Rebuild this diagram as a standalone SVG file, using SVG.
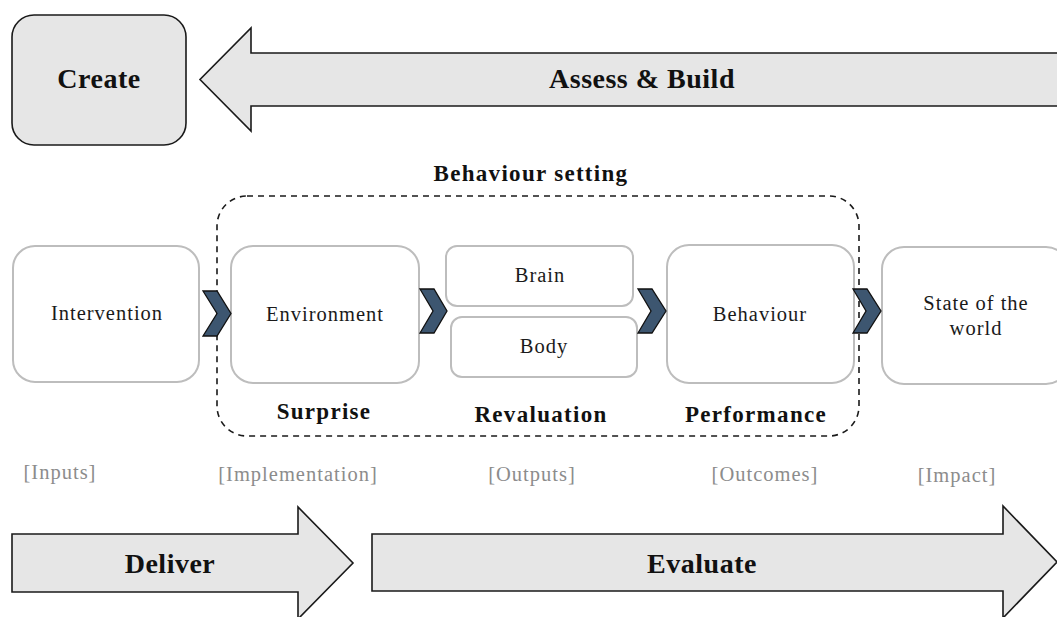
<svg xmlns="http://www.w3.org/2000/svg" width="1057" height="617" viewBox="0 0 1057 617">
  <style>
    .bg { fill: #ffffff; }
    .block { fill: #e6e6e6; stroke: #1a1a1a; stroke-width: 1.6; }
    .node { fill: #ffffff; stroke: #bdbdbd; stroke-width: 2; }
    .setting { fill: none; stroke: #1a1a1a; stroke-width: 1.6; stroke-dasharray: 6 5; }
    .chev { fill: #3d5670; stroke: #111111; stroke-width: 1.3; stroke-linejoin: miter; }
    .big { font-family: "Liberation Serif", serif; font-weight: bold; font-size: 28px; letter-spacing: 0.5px; fill: #111111; text-anchor: middle; }
    .head { font-family: "Liberation Serif", serif; font-weight: bold; font-size: 23px; letter-spacing: 1.3px; fill: #111111; text-anchor: middle; }
    .lbl { font-family: "Liberation Serif", serif; font-size: 20.5px; letter-spacing: 1px; fill: #1a1a1a; text-anchor: middle; }
    .stage { font-family: "Liberation Serif", serif; font-size: 20.5px; letter-spacing: 1px; fill: #8c8c8c; text-anchor: middle; }
  </style>

  <rect class="bg" x="0" y="0" width="1057" height="617"/>

  <!-- Create block and the Assess & Build arrow pointing back to it -->
  <g id="create">
    <rect class="block" x="12" y="15" width="174" height="130" rx="22"/>
    <text class="big" x="99" y="88">Create</text>
  </g>
  <g id="assess-build">
    <path class="block" d="M1070 53 H251 V28 L200 79.5 L251 131 V106 H1070 Z"/>
    <text class="big" x="642" y="88">Assess &amp; Build</text>
  </g>

  <!-- Behaviour setting frame -->
  <g id="behaviour-setting">
    <rect class="setting" x="217" y="196" width="642" height="240" rx="30"/>
    <text class="head" x="531" y="181">Behaviour setting</text>
    <text class="head" x="324" y="419">Surprise</text>
    <text class="head" x="541" y="422">Revaluation</text>
    <text class="head" x="756" y="422">Performance</text>
  </g>

  <!-- Chain nodes -->
  <g id="intervention">
    <rect class="node" x="13" y="246" width="186" height="136" rx="22"/>
    <text class="lbl" x="107" y="320">Intervention</text>
  </g>
  <g id="environment">
    <rect class="node" x="231" y="246" width="188" height="137" rx="22"/>
    <text class="lbl" x="325" y="321">Environment</text>
  </g>
  <g id="brain">
    <rect class="node" x="446" y="246" width="187" height="60" rx="11"/>
    <text class="lbl" x="540" y="282">Brain</text>
  </g>
  <g id="body">
    <rect class="node" x="451" y="317" width="186" height="60" rx="11"/>
    <text class="lbl" x="544" y="353">Body</text>
  </g>
  <g id="behaviour">
    <rect class="node" x="667" y="245" width="187" height="138" rx="22"/>
    <text class="lbl" x="760" y="321">Behaviour</text>
  </g>
  <g id="state-of-the-world">
    <rect class="node" x="882" y="247" width="186" height="137" rx="22"/>
    <text class="lbl" x="976" y="310">State of the</text>
    <text class="lbl" x="976" y="335">world</text>
  </g>

  <!-- Chevron connectors between nodes -->
  <g id="connectors">
    <path class="chev" d="M203 291 H217 L231 313.5 L217 336 H203 L217 313.5 Z"/>
    <path class="chev" d="M420 289 H434 L447 311 L434 333 H420 L433 311 Z"/>
    <path class="chev" d="M638 289 H652 L666 311 L652 333 H638 L651 311 Z"/>
    <path class="chev" d="M853 289 H867 L881 311 L867 333 H853 L866 311 Z"/>
  </g>

  <!-- Stage captions -->
  <g id="stages">
    <text class="stage" x="60" y="479">[Inputs]</text>
    <text class="stage" x="298" y="481">[Implementation]</text>
    <text class="stage" x="532" y="481">[Outputs]</text>
    <text class="stage" x="765" y="481">[Outcomes]</text>
    <text class="stage" x="957" y="482">[Impact]</text>
  </g>

  <!-- Deliver and Evaluate arrows -->
  <g id="deliver">
    <path class="block" d="M12 534 H298 V507 L353 563 L298 619 V592 H12 Z"/>
    <text class="big" x="170" y="573">Deliver</text>
  </g>
  <g id="evaluate">
    <path class="block" d="M372 534 H1003 V506 L1057 562 L1003 618 V591 H372 Z"/>
    <text class="big" x="702" y="573">Evaluate</text>
  </g>
</svg>
